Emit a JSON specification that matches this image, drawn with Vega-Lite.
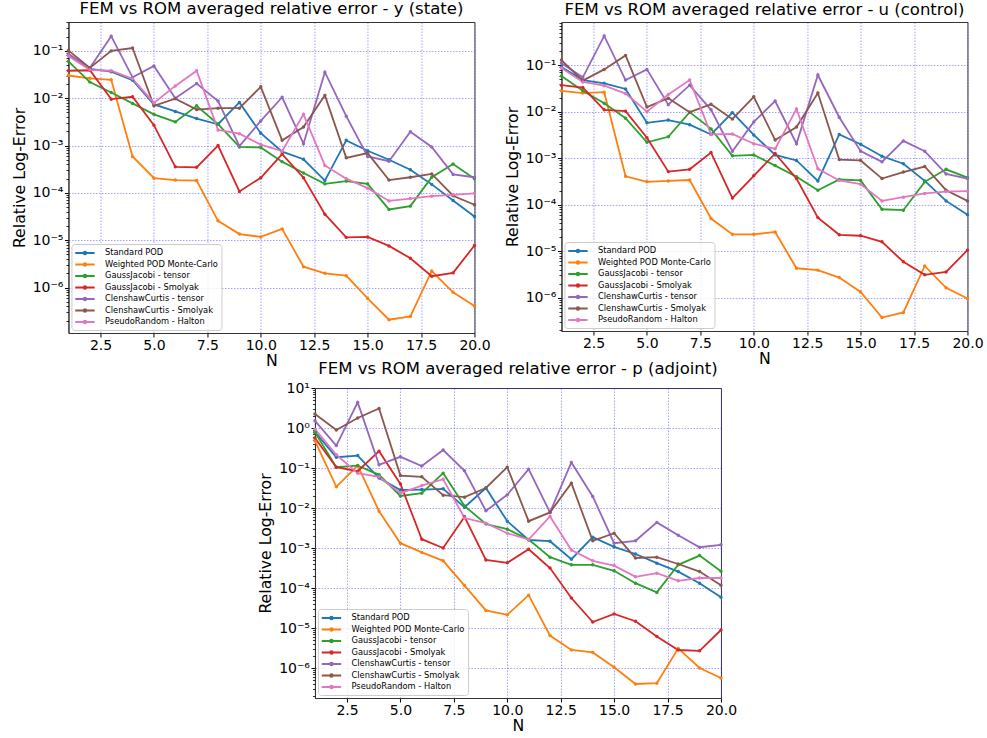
{
"$schema": "https://vega.github.io/schema/vega-lite/v6.json",
"padding": {"left": 10, "top": 0, "right": 0, "bottom": 0},
"datasets": {
"y_state": [
{"method":"Standard POD","N":1,"log10_err":-1.09},{"method":"Standard POD","N":2,"log10_err":-1.38},{"method":"Standard POD","N":3,"log10_err":-1.44},{"method":"Standard POD","N":4,"log10_err":-1.62},{"method":"Standard POD","N":5,"log10_err":-2.13},{"method":"Standard POD","N":6,"log10_err":-2.28},{"method":"Standard POD","N":7,"log10_err":-2.43},{"method":"Standard POD","N":8,"log10_err":-2.55},{"method":"Standard POD","N":9,"log10_err":-2.09},{"method":"Standard POD","N":10,"log10_err":-2.74},{"method":"Standard POD","N":11,"log10_err":-3.13},{"method":"Standard POD","N":12,"log10_err":-3.29},{"method":"Standard POD","N":13,"log10_err":-3.74},{"method":"Standard POD","N":14,"log10_err":-2.89},{"method":"Standard POD","N":15,"log10_err":-3.11},{"method":"Standard POD","N":16,"log10_err":-3.30},{"method":"Standard POD","N":17,"log10_err":-3.51},{"method":"Standard POD","N":18,"log10_err":-3.82},{"method":"Standard POD","N":19,"log10_err":-4.16},{"method":"Standard POD","N":20,"log10_err":-4.50},
{"method":"Weighted POD Monte-Carlo","N":1,"log10_err":-1.52},{"method":"Weighted POD Monte-Carlo","N":2,"log10_err":-1.58},{"method":"Weighted POD Monte-Carlo","N":3,"log10_err":-1.61},{"method":"Weighted POD Monte-Carlo","N":4,"log10_err":-3.23},{"method":"Weighted POD Monte-Carlo","N":5,"log10_err":-3.69},{"method":"Weighted POD Monte-Carlo","N":6,"log10_err":-3.73},{"method":"Weighted POD Monte-Carlo","N":7,"log10_err":-3.74},{"method":"Weighted POD Monte-Carlo","N":8,"log10_err":-4.59},{"method":"Weighted POD Monte-Carlo","N":9,"log10_err":-4.87},{"method":"Weighted POD Monte-Carlo","N":10,"log10_err":-4.93},{"method":"Weighted POD Monte-Carlo","N":11,"log10_err":-4.76},{"method":"Weighted POD Monte-Carlo","N":12,"log10_err":-5.56},{"method":"Weighted POD Monte-Carlo","N":13,"log10_err":-5.70},{"method":"Weighted POD Monte-Carlo","N":14,"log10_err":-5.75},{"method":"Weighted POD Monte-Carlo","N":15,"log10_err":-6.23},{"method":"Weighted POD Monte-Carlo","N":16,"log10_err":-6.68},{"method":"Weighted POD Monte-Carlo","N":17,"log10_err":-6.61},{"method":"Weighted POD Monte-Carlo","N":18,"log10_err":-5.65},{"method":"Weighted POD Monte-Carlo","N":19,"log10_err":-6.10},{"method":"Weighted POD Monte-Carlo","N":20,"log10_err":-6.39},
{"method":"GaussJacobi - tensor","N":1,"log10_err":-1.22},{"method":"GaussJacobi - tensor","N":2,"log10_err":-1.66},{"method":"GaussJacobi - tensor","N":3,"log10_err":-1.88},{"method":"GaussJacobi - tensor","N":4,"log10_err":-2.11},{"method":"GaussJacobi - tensor","N":5,"log10_err":-2.34},{"method":"GaussJacobi - tensor","N":6,"log10_err":-2.50},{"method":"GaussJacobi - tensor","N":7,"log10_err":-2.16},{"method":"GaussJacobi - tensor","N":8,"log10_err":-2.55},{"method":"GaussJacobi - tensor","N":9,"log10_err":-3.03},{"method":"GaussJacobi - tensor","N":10,"log10_err":-3.04},{"method":"GaussJacobi - tensor","N":11,"log10_err":-3.34},{"method":"GaussJacobi - tensor","N":12,"log10_err":-3.58},{"method":"GaussJacobi - tensor","N":13,"log10_err":-3.81},{"method":"GaussJacobi - tensor","N":14,"log10_err":-3.75},{"method":"GaussJacobi - tensor","N":15,"log10_err":-3.81},{"method":"GaussJacobi - tensor","N":16,"log10_err":-4.35},{"method":"GaussJacobi - tensor","N":17,"log10_err":-4.28},{"method":"GaussJacobi - tensor","N":18,"log10_err":-3.67},{"method":"GaussJacobi - tensor","N":19,"log10_err":-3.39},{"method":"GaussJacobi - tensor","N":20,"log10_err":-3.70},
{"method":"GaussJacobi - Smolyak","N":1,"log10_err":-1.42},{"method":"GaussJacobi - Smolyak","N":2,"log10_err":-1.41},{"method":"GaussJacobi - Smolyak","N":3,"log10_err":-2.02},{"method":"GaussJacobi - Smolyak","N":4,"log10_err":-1.97},{"method":"GaussJacobi - Smolyak","N":5,"log10_err":-2.57},{"method":"GaussJacobi - Smolyak","N":6,"log10_err":-3.45},{"method":"GaussJacobi - Smolyak","N":7,"log10_err":-3.46},{"method":"GaussJacobi - Smolyak","N":8,"log10_err":-3.00},{"method":"GaussJacobi - Smolyak","N":9,"log10_err":-3.97},{"method":"GaussJacobi - Smolyak","N":10,"log10_err":-3.68},{"method":"GaussJacobi - Smolyak","N":11,"log10_err":-3.18},{"method":"GaussJacobi - Smolyak","N":12,"log10_err":-3.68},{"method":"GaussJacobi - Smolyak","N":13,"log10_err":-4.45},{"method":"GaussJacobi - Smolyak","N":14,"log10_err":-4.94},{"method":"GaussJacobi - Smolyak","N":15,"log10_err":-4.93},{"method":"GaussJacobi - Smolyak","N":16,"log10_err":-5.12},{"method":"GaussJacobi - Smolyak","N":17,"log10_err":-5.38},{"method":"GaussJacobi - Smolyak","N":18,"log10_err":-5.76},{"method":"GaussJacobi - Smolyak","N":19,"log10_err":-5.69},{"method":"GaussJacobi - Smolyak","N":20,"log10_err":-5.11},
{"method":"ClenshawCurtis - tensor","N":1,"log10_err":-1.06},{"method":"ClenshawCurtis - tensor","N":2,"log10_err":-1.36},{"method":"ClenshawCurtis - tensor","N":3,"log10_err":-0.69},{"method":"ClenshawCurtis - tensor","N":4,"log10_err":-1.56},{"method":"ClenshawCurtis - tensor","N":5,"log10_err":-1.32},{"method":"ClenshawCurtis - tensor","N":6,"log10_err":-2.00},{"method":"ClenshawCurtis - tensor","N":7,"log10_err":-1.69},{"method":"ClenshawCurtis - tensor","N":8,"log10_err":-2.06},{"method":"ClenshawCurtis - tensor","N":9,"log10_err":-3.01},{"method":"ClenshawCurtis - tensor","N":10,"log10_err":-2.48},{"method":"ClenshawCurtis - tensor","N":11,"log10_err":-1.98},{"method":"ClenshawCurtis - tensor","N":12,"log10_err":-2.96},{"method":"ClenshawCurtis - tensor","N":13,"log10_err":-1.45},{"method":"ClenshawCurtis - tensor","N":14,"log10_err":-2.38},{"method":"ClenshawCurtis - tensor","N":15,"log10_err":-3.23},{"method":"ClenshawCurtis - tensor","N":16,"log10_err":-3.33},{"method":"ClenshawCurtis - tensor","N":17,"log10_err":-2.71},{"method":"ClenshawCurtis - tensor","N":18,"log10_err":-3.03},{"method":"ClenshawCurtis - tensor","N":19,"log10_err":-3.61},{"method":"ClenshawCurtis - tensor","N":20,"log10_err":-3.67},
{"method":"ClenshawCurtis - Smolyak","N":1,"log10_err":-0.99},{"method":"ClenshawCurtis - Smolyak","N":2,"log10_err":-1.36},{"method":"ClenshawCurtis - Smolyak","N":3,"log10_err":-1.00},{"method":"ClenshawCurtis - Smolyak","N":4,"log10_err":-0.94},{"method":"ClenshawCurtis - Smolyak","N":5,"log10_err":-2.16},{"method":"ClenshawCurtis - Smolyak","N":6,"log10_err":-2.01},{"method":"ClenshawCurtis - Smolyak","N":7,"log10_err":-2.24},{"method":"ClenshawCurtis - Smolyak","N":8,"log10_err":-2.21},{"method":"ClenshawCurtis - Smolyak","N":9,"log10_err":-2.21},{"method":"ClenshawCurtis - Smolyak","N":10,"log10_err":-1.76},{"method":"ClenshawCurtis - Smolyak","N":11,"log10_err":-2.89},{"method":"ClenshawCurtis - Smolyak","N":12,"log10_err":-2.61},{"method":"ClenshawCurtis - Smolyak","N":13,"log10_err":-1.94},{"method":"ClenshawCurtis - Smolyak","N":14,"log10_err":-3.26},{"method":"ClenshawCurtis - Smolyak","N":15,"log10_err":-3.16},{"method":"ClenshawCurtis - Smolyak","N":16,"log10_err":-3.73},{"method":"ClenshawCurtis - Smolyak","N":17,"log10_err":-3.67},{"method":"ClenshawCurtis - Smolyak","N":18,"log10_err":-3.60},{"method":"ClenshawCurtis - Smolyak","N":19,"log10_err":-4.06},{"method":"ClenshawCurtis - Smolyak","N":20,"log10_err":-4.25},
{"method":"PseudoRandom - Halton","N":1,"log10_err":-1.11},{"method":"PseudoRandom - Halton","N":2,"log10_err":-1.40},{"method":"PseudoRandom - Halton","N":3,"log10_err":-1.42},{"method":"PseudoRandom - Halton","N":4,"log10_err":-1.59},{"method":"PseudoRandom - Halton","N":5,"log10_err":-2.10},{"method":"PseudoRandom - Halton","N":6,"log10_err":-1.74},{"method":"PseudoRandom - Halton","N":7,"log10_err":-1.42},{"method":"PseudoRandom - Halton","N":8,"log10_err":-2.67},{"method":"PseudoRandom - Halton","N":9,"log10_err":-2.75},{"method":"PseudoRandom - Halton","N":10,"log10_err":-2.98},{"method":"PseudoRandom - Halton","N":11,"log10_err":-3.12},{"method":"PseudoRandom - Halton","N":12,"log10_err":-2.34},{"method":"PseudoRandom - Halton","N":13,"log10_err":-3.42},{"method":"PseudoRandom - Halton","N":14,"log10_err":-3.70},{"method":"PseudoRandom - Halton","N":15,"log10_err":-3.90},{"method":"PseudoRandom - Halton","N":16,"log10_err":-4.17},{"method":"PseudoRandom - Halton","N":17,"log10_err":-4.12},{"method":"PseudoRandom - Halton","N":18,"log10_err":-4.07},{"method":"PseudoRandom - Halton","N":19,"log10_err":-4.04},{"method":"PseudoRandom - Halton","N":20,"log10_err":-4.01}
],
"u_control": [
{"method":"Standard POD","N":1,"log10_err":-1.04},{"method":"Standard POD","N":2,"log10_err":-1.32},{"method":"Standard POD","N":3,"log10_err":-1.39},{"method":"Standard POD","N":4,"log10_err":-1.51},{"method":"Standard POD","N":5,"log10_err":-2.24},{"method":"Standard POD","N":6,"log10_err":-2.18},{"method":"Standard POD","N":7,"log10_err":-2.28},{"method":"Standard POD","N":8,"log10_err":-2.49},{"method":"Standard POD","N":9,"log10_err":-2.02},{"method":"Standard POD","N":10,"log10_err":-2.50},{"method":"Standard POD","N":11,"log10_err":-2.93},{"method":"Standard POD","N":12,"log10_err":-3.05},{"method":"Standard POD","N":13,"log10_err":-3.49},{"method":"Standard POD","N":14,"log10_err":-2.49},{"method":"Standard POD","N":15,"log10_err":-2.70},{"method":"Standard POD","N":16,"log10_err":-2.96},{"method":"Standard POD","N":17,"log10_err":-3.12},{"method":"Standard POD","N":18,"log10_err":-3.49},{"method":"Standard POD","N":19,"log10_err":-3.92},{"method":"Standard POD","N":20,"log10_err":-4.22},
{"method":"Weighted POD Monte-Carlo","N":1,"log10_err":-1.55},{"method":"Weighted POD Monte-Carlo","N":2,"log10_err":-1.60},{"method":"Weighted POD Monte-Carlo","N":3,"log10_err":-1.58},{"method":"Weighted POD Monte-Carlo","N":4,"log10_err":-3.39},{"method":"Weighted POD Monte-Carlo","N":5,"log10_err":-3.51},{"method":"Weighted POD Monte-Carlo","N":6,"log10_err":-3.49},{"method":"Weighted POD Monte-Carlo","N":7,"log10_err":-3.47},{"method":"Weighted POD Monte-Carlo","N":8,"log10_err":-4.30},{"method":"Weighted POD Monte-Carlo","N":9,"log10_err":-4.64},{"method":"Weighted POD Monte-Carlo","N":10,"log10_err":-4.64},{"method":"Weighted POD Monte-Carlo","N":11,"log10_err":-4.59},{"method":"Weighted POD Monte-Carlo","N":12,"log10_err":-5.37},{"method":"Weighted POD Monte-Carlo","N":13,"log10_err":-5.41},{"method":"Weighted POD Monte-Carlo","N":14,"log10_err":-5.57},{"method":"Weighted POD Monte-Carlo","N":15,"log10_err":-5.88},{"method":"Weighted POD Monte-Carlo","N":16,"log10_err":-6.43},{"method":"Weighted POD Monte-Carlo","N":17,"log10_err":-6.32},{"method":"Weighted POD Monte-Carlo","N":18,"log10_err":-5.32},{"method":"Weighted POD Monte-Carlo","N":19,"log10_err":-5.79},{"method":"Weighted POD Monte-Carlo","N":20,"log10_err":-6.02},
{"method":"GaussJacobi - tensor","N":1,"log10_err":-1.23},{"method":"GaussJacobi - tensor","N":2,"log10_err":-1.55},{"method":"GaussJacobi - tensor","N":3,"log10_err":-1.82},{"method":"GaussJacobi - tensor","N":4,"log10_err":-2.14},{"method":"GaussJacobi - tensor","N":5,"log10_err":-2.66},{"method":"GaussJacobi - tensor","N":6,"log10_err":-2.54},{"method":"GaussJacobi - tensor","N":7,"log10_err":-2.01},{"method":"GaussJacobi - tensor","N":8,"log10_err":-2.37},{"method":"GaussJacobi - tensor","N":9,"log10_err":-2.95},{"method":"GaussJacobi - tensor","N":10,"log10_err":-2.93},{"method":"GaussJacobi - tensor","N":11,"log10_err":-3.16},{"method":"GaussJacobi - tensor","N":12,"log10_err":-3.40},{"method":"GaussJacobi - tensor","N":13,"log10_err":-3.69},{"method":"GaussJacobi - tensor","N":14,"log10_err":-3.46},{"method":"GaussJacobi - tensor","N":15,"log10_err":-3.48},{"method":"GaussJacobi - tensor","N":16,"log10_err":-4.10},{"method":"GaussJacobi - tensor","N":17,"log10_err":-4.12},{"method":"GaussJacobi - tensor","N":18,"log10_err":-3.51},{"method":"GaussJacobi - tensor","N":19,"log10_err":-3.24},{"method":"GaussJacobi - tensor","N":20,"log10_err":-3.42},
{"method":"GaussJacobi - Smolyak","N":1,"log10_err":-1.43},{"method":"GaussJacobi - Smolyak","N":2,"log10_err":-1.48},{"method":"GaussJacobi - Smolyak","N":3,"log10_err":-1.96},{"method":"GaussJacobi - Smolyak","N":4,"log10_err":-1.99},{"method":"GaussJacobi - Smolyak","N":5,"log10_err":-2.56},{"method":"GaussJacobi - Smolyak","N":6,"log10_err":-3.29},{"method":"GaussJacobi - Smolyak","N":7,"log10_err":-3.24},{"method":"GaussJacobi - Smolyak","N":8,"log10_err":-2.88},{"method":"GaussJacobi - Smolyak","N":9,"log10_err":-3.86},{"method":"GaussJacobi - Smolyak","N":10,"log10_err":-3.38},{"method":"GaussJacobi - Smolyak","N":11,"log10_err":-2.90},{"method":"GaussJacobi - Smolyak","N":12,"log10_err":-3.44},{"method":"GaussJacobi - Smolyak","N":13,"log10_err":-4.28},{"method":"GaussJacobi - Smolyak","N":14,"log10_err":-4.65},{"method":"GaussJacobi - Smolyak","N":15,"log10_err":-4.67},{"method":"GaussJacobi - Smolyak","N":16,"log10_err":-4.80},{"method":"GaussJacobi - Smolyak","N":17,"log10_err":-5.23},{"method":"GaussJacobi - Smolyak","N":18,"log10_err":-5.51},{"method":"GaussJacobi - Smolyak","N":19,"log10_err":-5.45},{"method":"GaussJacobi - Smolyak","N":20,"log10_err":-4.98},
{"method":"ClenshawCurtis - tensor","N":1,"log10_err":-0.96},{"method":"ClenshawCurtis - tensor","N":2,"log10_err":-1.26},{"method":"ClenshawCurtis - tensor","N":3,"log10_err":-0.37},{"method":"ClenshawCurtis - tensor","N":4,"log10_err":-1.32},{"method":"ClenshawCurtis - tensor","N":5,"log10_err":-1.09},{"method":"ClenshawCurtis - tensor","N":6,"log10_err":-1.85},{"method":"ClenshawCurtis - tensor","N":7,"log10_err":-1.43},{"method":"ClenshawCurtis - tensor","N":8,"log10_err":-1.96},{"method":"ClenshawCurtis - tensor","N":9,"log10_err":-2.85},{"method":"ClenshawCurtis - tensor","N":10,"log10_err":-2.22},{"method":"ClenshawCurtis - tensor","N":11,"log10_err":-1.77},{"method":"ClenshawCurtis - tensor","N":12,"log10_err":-2.69},{"method":"ClenshawCurtis - tensor","N":13,"log10_err":-1.21},{"method":"ClenshawCurtis - tensor","N":14,"log10_err":-2.12},{"method":"ClenshawCurtis - tensor","N":15,"log10_err":-2.85},{"method":"ClenshawCurtis - tensor","N":16,"log10_err":-3.08},{"method":"ClenshawCurtis - tensor","N":17,"log10_err":-2.63},{"method":"ClenshawCurtis - tensor","N":18,"log10_err":-2.85},{"method":"ClenshawCurtis - tensor","N":19,"log10_err":-3.34},{"method":"ClenshawCurtis - tensor","N":20,"log10_err":-3.44},
{"method":"ClenshawCurtis - Smolyak","N":1,"log10_err":-0.89},{"method":"ClenshawCurtis - Smolyak","N":2,"log10_err":-1.33},{"method":"ClenshawCurtis - Smolyak","N":3,"log10_err":-1.09},{"method":"ClenshawCurtis - Smolyak","N":4,"log10_err":-0.79},{"method":"ClenshawCurtis - Smolyak","N":5,"log10_err":-1.90},{"method":"ClenshawCurtis - Smolyak","N":6,"log10_err":-1.71},{"method":"ClenshawCurtis - Smolyak","N":7,"log10_err":-2.01},{"method":"ClenshawCurtis - Smolyak","N":8,"log10_err":-1.84},{"method":"ClenshawCurtis - Smolyak","N":9,"log10_err":-2.16},{"method":"ClenshawCurtis - Smolyak","N":10,"log10_err":-1.68},{"method":"ClenshawCurtis - Smolyak","N":11,"log10_err":-2.61},{"method":"ClenshawCurtis - Smolyak","N":12,"log10_err":-2.33},{"method":"ClenshawCurtis - Smolyak","N":13,"log10_err":-1.60},{"method":"ClenshawCurtis - Smolyak","N":14,"log10_err":-3.03},{"method":"ClenshawCurtis - Smolyak","N":15,"log10_err":-3.05},{"method":"ClenshawCurtis - Smolyak","N":16,"log10_err":-3.44},{"method":"ClenshawCurtis - Smolyak","N":17,"log10_err":-3.30},{"method":"ClenshawCurtis - Smolyak","N":18,"log10_err":-3.18},{"method":"ClenshawCurtis - Smolyak","N":19,"log10_err":-3.69},{"method":"ClenshawCurtis - Smolyak","N":20,"log10_err":-3.92},
{"method":"PseudoRandom - Halton","N":1,"log10_err":-1.06},{"method":"PseudoRandom - Halton","N":2,"log10_err":-1.36},{"method":"PseudoRandom - Halton","N":3,"log10_err":-1.44},{"method":"PseudoRandom - Halton","N":4,"log10_err":-1.61},{"method":"PseudoRandom - Halton","N":5,"log10_err":-2.00},{"method":"PseudoRandom - Halton","N":6,"log10_err":-1.63},{"method":"PseudoRandom - Halton","N":7,"log10_err":-1.32},{"method":"PseudoRandom - Halton","N":8,"log10_err":-2.49},{"method":"PseudoRandom - Halton","N":9,"log10_err":-2.48},{"method":"PseudoRandom - Halton","N":10,"log10_err":-2.69},{"method":"PseudoRandom - Halton","N":11,"log10_err":-2.80},{"method":"PseudoRandom - Halton","N":12,"log10_err":-1.94},{"method":"PseudoRandom - Halton","N":13,"log10_err":-3.23},{"method":"PseudoRandom - Halton","N":14,"log10_err":-3.48},{"method":"PseudoRandom - Halton","N":15,"log10_err":-3.56},{"method":"PseudoRandom - Halton","N":16,"log10_err":-3.92},{"method":"PseudoRandom - Halton","N":17,"log10_err":-3.84},{"method":"PseudoRandom - Halton","N":18,"log10_err":-3.76},{"method":"PseudoRandom - Halton","N":19,"log10_err":-3.72},{"method":"PseudoRandom - Halton","N":20,"log10_err":-3.71}
],
"p_adjoint": [
{"method":"Standard POD","N":1,"log10_err":-0.10},{"method":"Standard POD","N":2,"log10_err":-0.73},{"method":"Standard POD","N":3,"log10_err":-0.69},{"method":"Standard POD","N":4,"log10_err":-1.25},{"method":"Standard POD","N":5,"log10_err":-1.55},{"method":"Standard POD","N":6,"log10_err":-1.54},{"method":"Standard POD","N":7,"log10_err":-1.52},{"method":"Standard POD","N":8,"log10_err":-1.98},{"method":"Standard POD","N":9,"log10_err":-1.50},{"method":"Standard POD","N":10,"log10_err":-2.33},{"method":"Standard POD","N":11,"log10_err":-2.80},{"method":"Standard POD","N":12,"log10_err":-2.83},{"method":"Standard POD","N":13,"log10_err":-3.28},{"method":"Standard POD","N":14,"log10_err":-2.73},{"method":"Standard POD","N":15,"log10_err":-2.97},{"method":"Standard POD","N":16,"log10_err":-3.15},{"method":"Standard POD","N":17,"log10_err":-3.38},{"method":"Standard POD","N":18,"log10_err":-3.59},{"method":"Standard POD","N":19,"log10_err":-3.88},{"method":"Standard POD","N":20,"log10_err":-4.23},
{"method":"Weighted POD Monte-Carlo","N":1,"log10_err":-0.32},{"method":"Weighted POD Monte-Carlo","N":2,"log10_err":-1.47},{"method":"Weighted POD Monte-Carlo","N":3,"log10_err":-0.94},{"method":"Weighted POD Monte-Carlo","N":4,"log10_err":-2.08},{"method":"Weighted POD Monte-Carlo","N":5,"log10_err":-2.88},{"method":"Weighted POD Monte-Carlo","N":6,"log10_err":-3.11},{"method":"Weighted POD Monte-Carlo","N":7,"log10_err":-3.32},{"method":"Weighted POD Monte-Carlo","N":8,"log10_err":-3.94},{"method":"Weighted POD Monte-Carlo","N":9,"log10_err":-4.56},{"method":"Weighted POD Monte-Carlo","N":10,"log10_err":-4.67},{"method":"Weighted POD Monte-Carlo","N":11,"log10_err":-4.18},{"method":"Weighted POD Monte-Carlo","N":12,"log10_err":-5.19},{"method":"Weighted POD Monte-Carlo","N":13,"log10_err":-5.55},{"method":"Weighted POD Monte-Carlo","N":14,"log10_err":-5.61},{"method":"Weighted POD Monte-Carlo","N":15,"log10_err":-5.98},{"method":"Weighted POD Monte-Carlo","N":16,"log10_err":-6.40},{"method":"Weighted POD Monte-Carlo","N":17,"log10_err":-6.38},{"method":"Weighted POD Monte-Carlo","N":18,"log10_err":-5.51},{"method":"Weighted POD Monte-Carlo","N":19,"log10_err":-6.00},{"method":"Weighted POD Monte-Carlo","N":20,"log10_err":-6.25},
{"method":"GaussJacobi - tensor","N":1,"log10_err":-0.11},{"method":"GaussJacobi - tensor","N":2,"log10_err":-0.98},{"method":"GaussJacobi - tensor","N":3,"log10_err":-0.94},{"method":"GaussJacobi - tensor","N":4,"log10_err":-1.17},{"method":"GaussJacobi - tensor","N":5,"log10_err":-1.70},{"method":"GaussJacobi - tensor","N":6,"log10_err":-1.63},{"method":"GaussJacobi - tensor","N":7,"log10_err":-1.13},{"method":"GaussJacobi - tensor","N":8,"log10_err":-1.95},{"method":"GaussJacobi - tensor","N":9,"log10_err":-2.40},{"method":"GaussJacobi - tensor","N":10,"log10_err":-2.53},{"method":"GaussJacobi - tensor","N":11,"log10_err":-2.79},{"method":"GaussJacobi - tensor","N":12,"log10_err":-3.23},{"method":"GaussJacobi - tensor","N":13,"log10_err":-3.42},{"method":"GaussJacobi - tensor","N":14,"log10_err":-3.42},{"method":"GaussJacobi - tensor","N":15,"log10_err":-3.57},{"method":"GaussJacobi - tensor","N":16,"log10_err":-3.88},{"method":"GaussJacobi - tensor","N":17,"log10_err":-4.11},{"method":"GaussJacobi - tensor","N":18,"log10_err":-3.42},{"method":"GaussJacobi - tensor","N":19,"log10_err":-3.19},{"method":"GaussJacobi - tensor","N":20,"log10_err":-3.58},
{"method":"GaussJacobi - Smolyak","N":1,"log10_err":-0.25},{"method":"GaussJacobi - Smolyak","N":2,"log10_err":-0.98},{"method":"GaussJacobi - Smolyak","N":3,"log10_err":-1.08},{"method":"GaussJacobi - Smolyak","N":4,"log10_err":-0.58},{"method":"GaussJacobi - Smolyak","N":5,"log10_err":-1.40},{"method":"GaussJacobi - Smolyak","N":6,"log10_err":-2.78},{"method":"GaussJacobi - Smolyak","N":7,"log10_err":-3.00},{"method":"GaussJacobi - Smolyak","N":8,"log10_err":-2.22},{"method":"GaussJacobi - Smolyak","N":9,"log10_err":-3.30},{"method":"GaussJacobi - Smolyak","N":10,"log10_err":-3.37},{"method":"GaussJacobi - Smolyak","N":11,"log10_err":-3.03},{"method":"GaussJacobi - Smolyak","N":12,"log10_err":-3.50},{"method":"GaussJacobi - Smolyak","N":13,"log10_err":-4.25},{"method":"GaussJacobi - Smolyak","N":14,"log10_err":-4.85},{"method":"GaussJacobi - Smolyak","N":15,"log10_err":-4.65},{"method":"GaussJacobi - Smolyak","N":16,"log10_err":-4.83},{"method":"GaussJacobi - Smolyak","N":17,"log10_err":-5.21},{"method":"GaussJacobi - Smolyak","N":18,"log10_err":-5.55},{"method":"GaussJacobi - Smolyak","N":19,"log10_err":-5.57},{"method":"GaussJacobi - Smolyak","N":20,"log10_err":-5.05},
{"method":"ClenshawCurtis - tensor","N":1,"log10_err":0.18},{"method":"ClenshawCurtis - tensor","N":2,"log10_err":-0.44},{"method":"ClenshawCurtis - tensor","N":3,"log10_err":0.64},{"method":"ClenshawCurtis - tensor","N":4,"log10_err":-0.92},{"method":"ClenshawCurtis - tensor","N":5,"log10_err":-0.72},{"method":"ClenshawCurtis - tensor","N":6,"log10_err":-0.95},{"method":"ClenshawCurtis - tensor","N":7,"log10_err":-0.55},{"method":"ClenshawCurtis - tensor","N":8,"log10_err":-1.07},{"method":"ClenshawCurtis - tensor","N":9,"log10_err":-2.07},{"method":"ClenshawCurtis - tensor","N":10,"log10_err":-1.67},{"method":"ClenshawCurtis - tensor","N":11,"log10_err":-1.03},{"method":"ClenshawCurtis - tensor","N":12,"log10_err":-2.11},{"method":"ClenshawCurtis - tensor","N":13,"log10_err":-0.86},{"method":"ClenshawCurtis - tensor","N":14,"log10_err":-1.71},{"method":"ClenshawCurtis - tensor","N":15,"log10_err":-2.88},{"method":"ClenshawCurtis - tensor","N":16,"log10_err":-2.82},{"method":"ClenshawCurtis - tensor","N":17,"log10_err":-2.36},{"method":"ClenshawCurtis - tensor","N":18,"log10_err":-2.68},{"method":"ClenshawCurtis - tensor","N":19,"log10_err":-2.98},{"method":"ClenshawCurtis - tensor","N":20,"log10_err":-2.92},
{"method":"ClenshawCurtis - Smolyak","N":1,"log10_err":0.35},{"method":"ClenshawCurtis - Smolyak","N":2,"log10_err":-0.05},{"method":"ClenshawCurtis - Smolyak","N":3,"log10_err":0.25},{"method":"ClenshawCurtis - Smolyak","N":4,"log10_err":0.49},{"method":"ClenshawCurtis - Smolyak","N":5,"log10_err":-1.19},{"method":"ClenshawCurtis - Smolyak","N":6,"log10_err":-1.22},{"method":"ClenshawCurtis - Smolyak","N":7,"log10_err":-1.68},{"method":"ClenshawCurtis - Smolyak","N":8,"log10_err":-1.73},{"method":"ClenshawCurtis - Smolyak","N":9,"log10_err":-1.50},{"method":"ClenshawCurtis - Smolyak","N":10,"log10_err":-0.98},{"method":"ClenshawCurtis - Smolyak","N":11,"log10_err":-2.33},{"method":"ClenshawCurtis - Smolyak","N":12,"log10_err":-2.11},{"method":"ClenshawCurtis - Smolyak","N":13,"log10_err":-1.38},{"method":"ClenshawCurtis - Smolyak","N":14,"log10_err":-2.82},{"method":"ClenshawCurtis - Smolyak","N":15,"log10_err":-2.63},{"method":"ClenshawCurtis - Smolyak","N":16,"log10_err":-3.25},{"method":"ClenshawCurtis - Smolyak","N":17,"log10_err":-3.23},{"method":"ClenshawCurtis - Smolyak","N":18,"log10_err":-3.40},{"method":"ClenshawCurtis - Smolyak","N":19,"log10_err":-3.59},{"method":"ClenshawCurtis - Smolyak","N":20,"log10_err":-3.93},
{"method":"PseudoRandom - Halton","N":1,"log10_err":-0.03},{"method":"PseudoRandom - Halton","N":2,"log10_err":-0.67},{"method":"PseudoRandom - Halton","N":3,"log10_err":-1.13},{"method":"PseudoRandom - Halton","N":4,"log10_err":-1.22},{"method":"PseudoRandom - Halton","N":5,"log10_err":-1.63},{"method":"PseudoRandom - Halton","N":6,"log10_err":-1.44},{"method":"PseudoRandom - Halton","N":7,"log10_err":-1.28},{"method":"PseudoRandom - Halton","N":8,"log10_err":-2.25},{"method":"PseudoRandom - Halton","N":9,"log10_err":-2.38},{"method":"PseudoRandom - Halton","N":10,"log10_err":-2.63},{"method":"PseudoRandom - Halton","N":11,"log10_err":-2.79},{"method":"PseudoRandom - Halton","N":12,"log10_err":-2.21},{"method":"PseudoRandom - Halton","N":13,"log10_err":-3.05},{"method":"PseudoRandom - Halton","N":14,"log10_err":-3.32},{"method":"PseudoRandom - Halton","N":15,"log10_err":-3.44},{"method":"PseudoRandom - Halton","N":16,"log10_err":-3.72},{"method":"PseudoRandom - Halton","N":17,"log10_err":-3.63},{"method":"PseudoRandom - Halton","N":18,"log10_err":-3.82},{"method":"PseudoRandom - Halton","N":19,"log10_err":-3.75},{"method":"PseudoRandom - Halton","N":20,"log10_err":-3.75}
]
},
"center": true,
"spacing": -9,
"resolve": {"scale": {"color": "independent"}, "legend": {"color": "independent"}},
"vconcat": [
{
"spacing": 12,
"resolve": {"scale": {"color": "independent"}, "legend": {"color": "independent"}},
"hconcat": [
{
"width": 406, "height": 311,
"title": "FEM vs ROM averaged relative error - y (state)",
"data": {"name": "y_state"},
"resolve": {"axis": {"y": "independent"}},
"layer": [
{
"mark": {"type": "line", "strokeWidth": 1.8, "point": {"filled": true, "size": 12}},
"encoding": {
"x": {"field": "N", "type": "quantitative", "scale": {"domain": [1, 20], "nice": false, "zero": false}, "axis": {"values": [2.5, 5, 7.5, 10, 12.5, 15, 17.5, 20], "format": ".1f", "title": "N"}},
"y": {"field": "log10_err", "type": "quantitative", "scale": {"domain": [-6.96, -0.39], "nice": false, "zero": false}, "axis": {"values": [-6, -5, -4, -3, -2, -1], "labelExpr": "'10' + (datum.value < 0 ? '⁻' : '') + ['⁰','¹','²','³','⁴','⁵','⁶','⁷'][abs(datum.value)]", "title": "Relative Log-Error"}},
"color": {"field": "method", "type": "nominal",
"scale": {"domain": ["Standard POD", "Weighted POD Monte-Carlo", "GaussJacobi - tensor", "GaussJacobi - Smolyak", "ClenshawCurtis - tensor", "ClenshawCurtis - Smolyak", "PseudoRandom - Halton"], "range": ["#1f77b4", "#ff7f0e", "#2ca02c", "#d62728", "#9467bd", "#8c564b", "#e377c2"]},
"legend": {"title": null, "orient": "bottom-left", "symbolType": "M-1.94,0H1.94M-0.26,0A0.26,0.26,0,1,1,0.26,0A0.26,0.26,0,1,1,-0.26,0", "symbolSize": 100, "symbolStrokeWidth": 1.8, "symbolOffset": 4.5, "labelOffset": 14}}
}
},
{
"mark": {"type": "point", "opacity": 0},
"encoding": {
"y": {"field": "log10_err", "type": "quantitative", "scale": {"domain": [-6.96, -0.39], "nice": false, "zero": false}, "axis": {"orient": "left", "values": [-6.699,-6.523,-6.398,-6.301,-6.222,-6.155,-6.097,-6.046,-5.699,-5.523,-5.398,-5.301,-5.222,-5.155,-5.097,-5.046,-4.699,-4.523,-4.398,-4.301,-4.222,-4.155,-4.097,-4.046,-3.699,-3.523,-3.398,-3.301,-3.222,-3.155,-3.097,-3.046,-2.699,-2.523,-2.398,-2.301,-2.222,-2.155,-2.097,-2.046,-1.699,-1.523,-1.398,-1.301,-1.222,-1.155,-1.097,-1.046,-0.699,-0.523,-0.398], "labels": false, "grid": false, "domain": false, "tickSize": 2.5, "tickWidth": 0.8, "title": null}}
}
}
]
},
{
"width": 406, "height": 309,
"title": "FEM vs ROM averaged relative error - u (control)",
"data": {"name": "u_control"},
"resolve": {"axis": {"y": "independent"}},
"layer": [
{
"mark": {"type": "line", "strokeWidth": 1.8, "point": {"filled": true, "size": 12}},
"encoding": {
"x": {"field": "N", "type": "quantitative", "scale": {"domain": [1, 20], "nice": false, "zero": false}, "axis": {"values": [2.5, 5, 7.5, 10, 12.5, 15, 17.5, 20], "format": ".1f", "title": "N"}},
"y": {"field": "log10_err", "type": "quantitative", "scale": {"domain": [-6.72, -0.07], "nice": false, "zero": false}, "axis": {"values": [-6, -5, -4, -3, -2, -1], "labelExpr": "'10' + (datum.value < 0 ? '⁻' : '') + ['⁰','¹','²','³','⁴','⁵','⁶','⁷'][abs(datum.value)]", "title": "Relative Log-Error"}},
"color": {"field": "method", "type": "nominal",
"scale": {"domain": ["Standard POD", "Weighted POD Monte-Carlo", "GaussJacobi - tensor", "GaussJacobi - Smolyak", "ClenshawCurtis - tensor", "ClenshawCurtis - Smolyak", "PseudoRandom - Halton"], "range": ["#1f77b4", "#ff7f0e", "#2ca02c", "#d62728", "#9467bd", "#8c564b", "#e377c2"]},
"legend": {"title": null, "orient": "bottom-left", "symbolType": "M-1.94,0H1.94M-0.26,0A0.26,0.26,0,1,1,0.26,0A0.26,0.26,0,1,1,-0.26,0", "symbolSize": 100, "symbolStrokeWidth": 1.8, "symbolOffset": 4.5, "labelOffset": 14}}
}
},
{
"mark": {"type": "point", "opacity": 0},
"encoding": {
"y": {"field": "log10_err", "type": "quantitative", "scale": {"domain": [-6.72, -0.07], "nice": false, "zero": false}, "axis": {"orient": "left", "values": [-6.699,-6.523,-6.398,-6.301,-6.222,-6.155,-6.097,-6.046,-5.699,-5.523,-5.398,-5.301,-5.222,-5.155,-5.097,-5.046,-4.699,-4.523,-4.398,-4.301,-4.222,-4.155,-4.097,-4.046,-3.699,-3.523,-3.398,-3.301,-3.222,-3.155,-3.097,-3.046,-2.699,-2.523,-2.398,-2.301,-2.222,-2.155,-2.097,-2.046,-1.699,-1.523,-1.398,-1.301,-1.222,-1.155,-1.097,-1.046,-0.699,-0.523,-0.398,-0.301,-0.222,-0.155,-0.097], "labels": false, "grid": false, "domain": false, "tickSize": 2.5, "tickWidth": 0.8, "title": null}}
}
}
]
}
]
},
{
"width": 406, "height": 310,
"title": "FEM vs ROM averaged relative error - p (adjoint)",
"data": {"name": "p_adjoint"},
"resolve": {"axis": {"y": "independent"}},
"layer": [
{
"mark": {"type": "line", "strokeWidth": 1.8, "point": {"filled": true, "size": 12}},
"encoding": {
"x": {"field": "N", "type": "quantitative", "scale": {"domain": [1, 20], "nice": false, "zero": false}, "axis": {"values": [2.5, 5, 7.5, 10, 12.5, 15, 17.5, 20], "format": ".1f", "title": "N"}},
"y": {"field": "log10_err", "type": "quantitative", "scale": {"domain": [-6.75, 1], "nice": false, "zero": false}, "axis": {"values": [-6, -5, -4, -3, -2, -1, 0, 1], "labelExpr": "'10' + (datum.value < 0 ? '⁻' : '') + ['⁰','¹','²','³','⁴','⁵','⁶','⁷'][abs(datum.value)]", "title": "Relative Log-Error"}},
"color": {"field": "method", "type": "nominal",
"scale": {"domain": ["Standard POD", "Weighted POD Monte-Carlo", "GaussJacobi - tensor", "GaussJacobi - Smolyak", "ClenshawCurtis - tensor", "ClenshawCurtis - Smolyak", "PseudoRandom - Halton"], "range": ["#1f77b4", "#ff7f0e", "#2ca02c", "#d62728", "#9467bd", "#8c564b", "#e377c2"]},
"legend": {"title": null, "orient": "bottom-left", "symbolType": "M-1.94,0H1.94M-0.26,0A0.26,0.26,0,1,1,0.26,0A0.26,0.26,0,1,1,-0.26,0", "symbolSize": 100, "symbolStrokeWidth": 1.8, "symbolOffset": 4.5, "labelOffset": 14}}
}
},
{
"mark": {"type": "point", "opacity": 0},
"encoding": {
"y": {"field": "log10_err", "type": "quantitative", "scale": {"domain": [-6.75, 1], "nice": false, "zero": false}, "axis": {"orient": "left", "values": [-6.699,-6.523,-6.398,-6.301,-6.222,-6.155,-6.097,-6.046,-5.699,-5.523,-5.398,-5.301,-5.222,-5.155,-5.097,-5.046,-4.699,-4.523,-4.398,-4.301,-4.222,-4.155,-4.097,-4.046,-3.699,-3.523,-3.398,-3.301,-3.222,-3.155,-3.097,-3.046,-2.699,-2.523,-2.398,-2.301,-2.222,-2.155,-2.097,-2.046,-1.699,-1.523,-1.398,-1.301,-1.222,-1.155,-1.097,-1.046,-0.699,-0.523,-0.398,-0.301,-0.222,-0.155,-0.097,-0.046,0.301,0.477,0.602,0.699,0.778,0.845,0.903,0.954], "labels": false, "grid": false, "domain": false, "tickSize": 2.5, "tickWidth": 0.8, "title": null}}
}
}
]
}
],
"config": {
"font": "DejaVu Sans",
"background": "#ffffff",
"view": {"stroke": "#333333", "strokeWidth": 1},
"title": {"fontSize": 16.5, "fontWeight": "normal", "color": "#000000", "offset": 0, "anchor": "middle"},
"axis": {"domainColor": "#333333", "tickColor": "#000000", "tickSize": 4, "labelColor": "#000000", "labelFontSize": 14, "labelPadding": 1.5, "titleFontSize": 15.7, "titleFontWeight": "normal", "titleColor": "#000000", "titlePadding": 5, "gridColor": "#3a3aff", "gridOpacity": 0.6, "gridDash": [1.5, 1.5], "gridWidth": 0.8},
"axisX": {"titlePadding": 1, "labelFlush": false, "labelOverlap": false},
"axisY": {"labelOverlap": false},
"legend": {"labelFontSize": 8.3, "labelColor": "#000000", "fillColor": "rgba(255,255,255,0.8)", "strokeColor": "#cccccc", "cornerRadius": 3, "padding": 3, "rowPadding": 0.5, "labelOffset": 6, "offset": 3}
}
}
